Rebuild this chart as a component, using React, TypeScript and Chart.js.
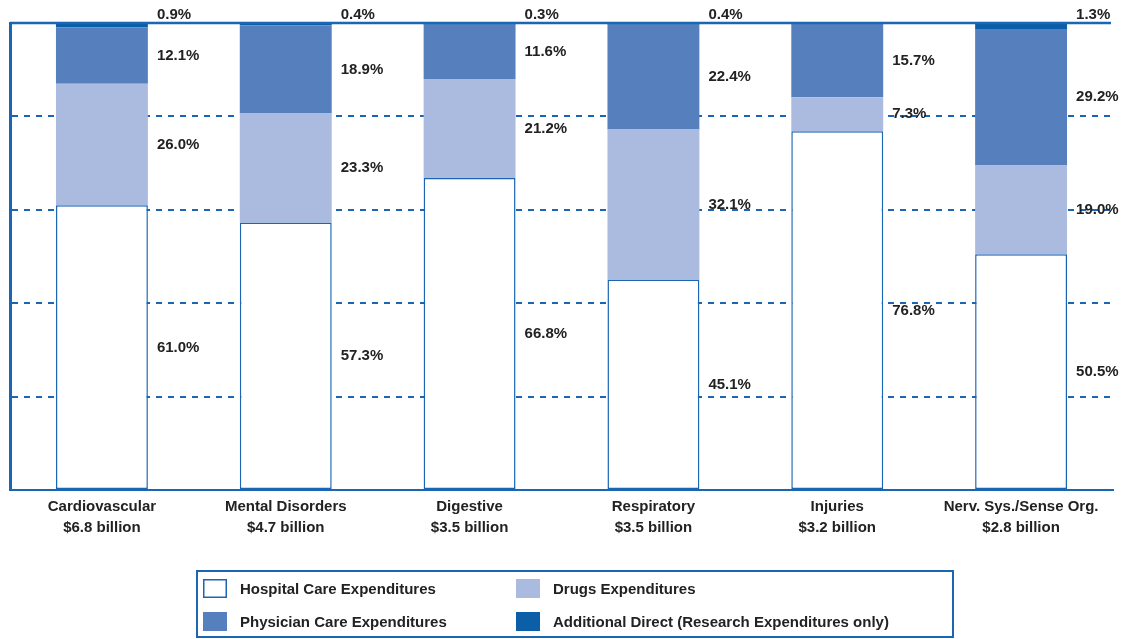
import React, { useEffect, useRef } from "react";
import { Chart, registerables } from "chart.js";

Chart.register(...registerables);

const categories: string[][] = [
  ["Cardiovascular", "$6.8 billion"],
  ["Mental Disorders", "$4.7 billion"],
  ["Digestive", "$3.5 billion"],
  ["Respiratory", "$3.5 billion"],
  ["Injuries", "$3.2 billion"],
  ["Nerv. Sys./Sense Org.", "$2.8 billion"],
];

const hospital = [61.0, 57.3, 66.8, 45.1, 76.8, 50.5];
const drugs = [26.0, 23.3, 21.2, 32.1, 7.3, 19.0];
const physician = [12.1, 18.9, 11.6, 22.4, 15.7, 29.2];
const additional = [0.9, 0.4, 0.3, 0.4, 0, 1.3];

const seriesNames = [
  "Hospital Care Expenditures",
  "Drugs Expenditures",
  "Physician Care Expenditures",
  "Additional Direct (Research Expenditures only)",
];

const BLUE = "#1a66b3";
const DARK = "#0b5ea8";
const PHYS = "#5680bd";
const DRUG = "#abbbdf";
const TEXT = "#222222";
const FONT = "bold 15px 'Liberation Sans', Arial, sans-serif";

const labelPlugin = {
  id: "valueLabels",
  afterDraw(chart: any) {
    const ctx = chart.ctx;
    const area = chart.chartArea;
    ctx.save();
    ctx.setLineDash([]);
    // top border line
    ctx.strokeStyle = BLUE;
    ctx.lineWidth = 2.5;
    ctx.beginPath();
    ctx.moveTo(area.left, area.top);
    ctx.lineTo(area.right - 2, area.top);
    ctx.stroke();

    ctx.font = FONT;
    ctx.fillStyle = TEXT;
    ctx.textAlign = "left";
    ctx.textBaseline = "middle";
    const ys = chart.scales.y;
    chart.data.datasets.forEach((ds: any, di: number) => {
      const meta = chart.getDatasetMeta(di);
      meta.data.forEach((bar: any, j: number) => {
        const v = ds.data[j];
        if (!v) return;
        let base = 0;
        for (let k = 0; k < di; k++) base += chart.data.datasets[k].data[j];
        const x = bar.x + bar.width / 2 + 9;
        let y;
        if (di === 3) y = area.top - 8;
        else y = ys.getPixelForValue(base + v / 2);
        ctx.fillText(v.toFixed(1) + "%", x, y);
      });
    });

    // legend
    const lx = 197, ly = 571, lw = 756, lh = 66;
    ctx.strokeStyle = BLUE;
    ctx.lineWidth = 2;
    ctx.strokeRect(lx, ly, lw, lh);
    const items = [
      { x: 203, y: 579, fill: "#ffffff", border: true, name: seriesNames[0] },
      { x: 516, y: 579, fill: DRUG, border: false, name: seriesNames[1] },
      { x: 203, y: 612, fill: PHYS, border: false, name: seriesNames[2] },
      { x: 516, y: 612, fill: DARK, border: false, name: seriesNames[3] },
    ];
    items.forEach((it) => {
      ctx.fillStyle = it.fill;
      ctx.fillRect(it.x, it.y, 24, 19);
      if (it.border) {
        ctx.strokeStyle = BLUE;
        ctx.lineWidth = 1.5;
        ctx.strokeRect(it.x + 0.75, it.y + 0.75, 22.5, 17.5);
      }
      ctx.fillStyle = TEXT;
      ctx.font = FONT;
      ctx.textBaseline = "middle";
      ctx.fillText(it.name, it.x + 37, it.y + 11);
    });
    ctx.restore();
  },
};

export default function App() {
  const ref = useRef<HTMLCanvasElement | null>(null);
  useEffect(() => {
    if (!ref.current) return;
    const chart = new Chart(ref.current, {
      type: "bar",
      data: {
        labels: categories,
        datasets: [
          {
            label: seriesNames[0],
            data: hospital,
            backgroundColor: "#ffffff",
            borderColor: BLUE,
            borderWidth: 1.5,
            borderSkipped: false,
          },
          { label: seriesNames[1], data: drugs, backgroundColor: DRUG, borderWidth: 0 },
          { label: seriesNames[2], data: physician, backgroundColor: PHYS, borderWidth: 0 },
          { label: seriesNames[3], data: additional, backgroundColor: DARK, borderWidth: 0 },
        ],
      },
      options: {
        responsive: false,
        animation: false,
        devicePixelRatio: 1,
        categoryPercentage: 1,
        barPercentage: 0.5,
        layout: { padding: { top: 23, right: 15, left: 0, bottom: 0 } },
        plugins: { legend: { display: false }, tooltip: { enabled: false } },
        scales: {
          x: {
            stacked: true,
            afterFit: (s: any) => {
              s.height = 149;
            },
            grid: { display: false },
            border: { color: BLUE, width: 2 },
            ticks: {
              color: TEXT,
              padding: -2,
              maxRotation: 0,
              autoSkip: false,
              font: { family: "'Liberation Sans', Arial, sans-serif", size: 15, weight: "bold", lineHeight: 1.4 },
            },
          },
          y: {
            stacked: true,
            min: 0,
            max: 100,
            afterFit: (s: any) => {
              s.width = 10;
            },
            ticks: { display: false, stepSize: 20 },
            border: { color: BLUE, width: 3, dash: [6, 6] },
            grid: {
              drawTicks: false,
              lineWidth: 2,
              color: (c: any) =>
                c.tick && (c.tick.value === 0 || c.tick.value === 100) ? "rgba(0,0,0,0)" : BLUE,
            },
          },
        },
      } as any,
      plugins: [labelPlugin],
    });
    return () => chart.destroy();
  }, []);
  return (
    <div style={{ position: "absolute", left: 0, top: 0 }}>
      <canvas ref={ref} width={1128} height={639} style={{ display: "block" }} />
    </div>
  );
}
